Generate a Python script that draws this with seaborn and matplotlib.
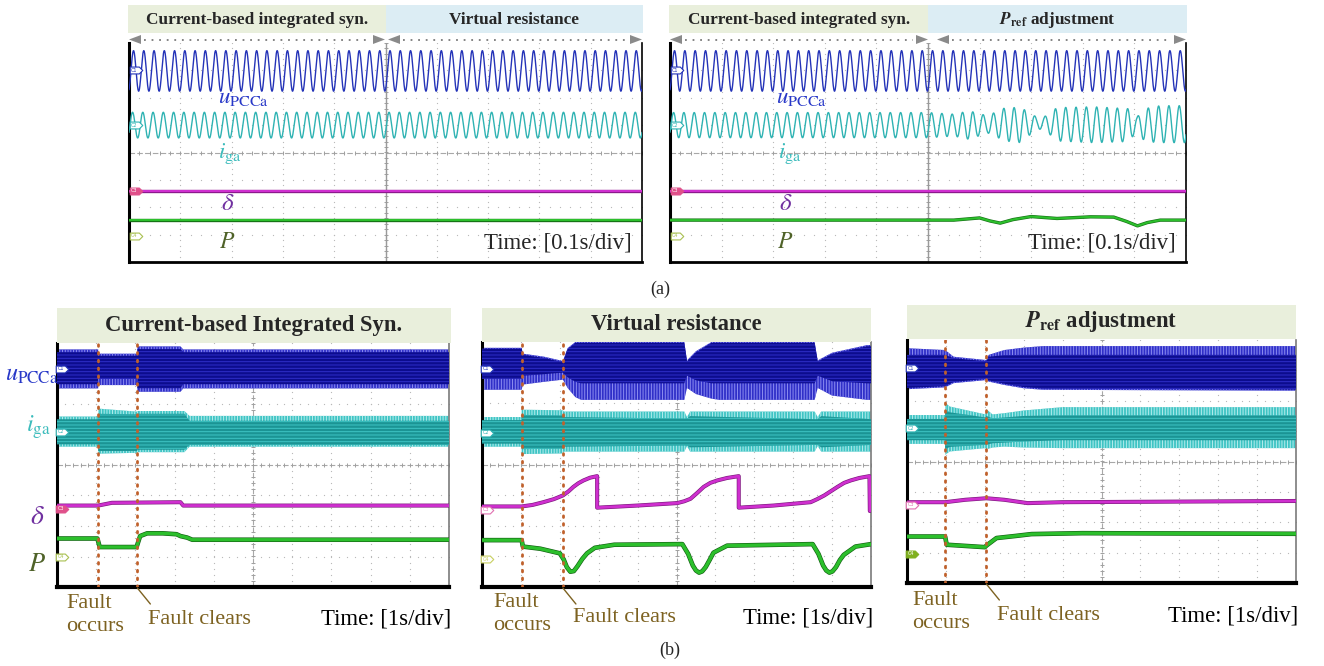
import numpy as np
import matplotlib
matplotlib.use("Agg")
import matplotlib.pyplot as plt
from matplotlib.path import Path
from matplotlib.patches import Rectangle, Polygon
import seaborn as sns

# ---------------- (a) steady-state records, 0.1 s/div ----------------
A_CYCLES = 50                     # 50 Hz over ten 0.1 s divisions
A_UPCC_LEVEL, A_UPCC_AMP = 2.98, 0.74
A_IGA_LEVEL, A_IGA_AMP = 1.00, 0.47
A_DELTA_LEVEL = -1.40
A_P_LEVEL = -2.47

# grid current envelope of the right-hand record (Pref adjustment enabled at 5 div)
a2_i_t = [0, 5.0, 5.5, 5.8, 6.15, 6.5, 6.8, 7.1, 7.25, 7.5, 8.2, 8.9, 9.05, 9.2, 9.5, 10]
a2_i_hi = [1.46, 1.46, 1.40, 1.52, 1.34, 1.64, 1.64, 1.30, 1.30, 1.64, 1.67, 1.60, 1.30, 1.60, 1.71, 1.71]
a2_i_lo = [0.54, 0.54, 0.60, 0.48, 0.72, 0.42, 0.36, 0.85, 0.85, 0.42, 0.36, 0.40, 0.80, 0.40, 0.36, 0.36]
a2_p_t = [0, 5.5, 6.0, 6.2, 6.4, 6.65, 7.0, 7.5, 8.15, 8.6, 8.85, 9.06, 9.25, 9.5, 10]
a2_p = [-2.47, -2.47, -2.39, -2.50, -2.58, -2.45, -2.34, -2.41, -2.35, -2.36, -2.52, -2.68, -2.56, -2.47, -2.47]

# ---------------- (b) fault ride-through records, 1 s/div ----------------
FAULT_ON = [1.05, 1.02, 0.98]
FAULT_OFF = [2.05, 2.08, 2.04]

# Current-based integrated synchronization
b1_u_t = [0, 1.05, 1.05, 2.05, 2.05, 3.15, 3.22, 10]
b1_u_hi = [3.79, 3.79, 3.65, 3.65, 3.89, 3.89, 3.79, 3.79]
b1_u_lo = [2.51, 2.51, 2.62, 2.62, 2.40, 2.40, 2.51, 2.51]
b1_u_ihi = [3.70, 3.70, 3.58, 3.58, 3.80, 3.80, 3.70, 3.70]
b1_u_ilo = [2.65, 2.65, 2.82, 2.82, 2.52, 2.52, 2.65, 2.65]
b1_i_t = [0, 1.05, 1.05, 2.05, 2.05, 3.25, 3.38, 10]
b1_i_hi = [1.59, 1.59, 1.85, 1.75, 1.77, 1.77, 1.61, 1.61]
b1_i_lo = [0.60, 0.60, 0.37, 0.40, 0.42, 0.42, 0.60, 0.60]
b1_i_ihi = [1.50, 1.50, 1.68, 1.66, 1.68, 1.68, 1.45, 1.45]
b1_i_ilo = [0.68, 0.68, 0.46, 0.46, 0.50, 0.50, 0.66, 0.66]
b1_d_t = [0, 1.05, 1.4, 3.15, 3.22, 10]
b1_d = [-1.33, -1.33, -1.24, -1.22, -1.33, -1.33]
b1_p_t = [0, 1.03, 1.09, 2.03, 2.12, 2.3, 2.7, 3.05, 3.15, 3.32, 3.45, 10]
b1_p = [-2.41, -2.41, -2.69, -2.69, -2.33, -2.24, -2.24, -2.27, -2.33, -2.38, -2.45, -2.45]

# Virtual resistance
b2_u_t = [0, 1.02, 1.05, 1.6, 2.08, 2.2, 2.4, 2.55, 5.2, 5.27, 5.5, 5.9, 6.1, 8.55, 8.63, 9.0, 9.9, 10]
b2_u_hi = [3.81, 3.81, 3.62, 3.52, 3.38, 3.80, 4.0, 4.0, 4.0, 3.40, 3.70, 4.0, 4.0, 4.0, 3.40, 3.65, 3.90, 3.90]
b2_u_lo = [2.44, 2.44, 2.61, 2.70, 2.77, 2.50, 2.20, 2.11, 2.11, 2.50, 2.30, 2.15, 2.11, 2.11, 2.50, 2.25, 2.11, 2.11]
b2_u_ihi = [3.78, 3.78, 3.58, 3.48, 3.34, 3.76, 3.97, 3.97, 3.97, 3.36, 3.66, 3.97, 3.97, 3.97, 3.36, 3.61, 3.86, 3.86]
b2_u_ilo = [2.80, 2.80, 2.90, 2.95, 3.00, 2.85, 2.70, 2.65, 2.65, 2.90, 2.75, 2.65, 2.65, 2.65, 2.90, 2.72, 2.65, 2.65]
b2_i_t = [0, 1.02, 1.02, 2.08, 2.1, 5.2, 5.27, 5.35, 8.55, 8.63, 8.72, 10]
b2_i_hi = [1.55, 1.55, 1.79, 1.77, 1.73, 1.73, 1.55, 1.73, 1.73, 1.55, 1.73, 1.73]
b2_i_lo = [0.58, 0.58, 0.34, 0.36, 0.42, 0.42, 0.60, 0.42, 0.42, 0.60, 0.42, 0.42]
b2_i_ihi = [1.45, 1.45, 1.62, 1.60, 1.55, 1.50, 1.50, 1.58, 1.48, 1.48, 1.58, 1.48]
b2_i_ilo = [0.68, 0.68, 0.50, 0.52, 0.58, 0.62, 0.62, 0.56, 0.64, 0.64, 0.56, 0.64]
b2_d_t = [0, 1.02, 1.3, 1.58, 1.85, 2.08, 2.22, 2.35, 2.48, 2.61, 2.78, 2.96, 2.96,
          4.0, 5.02, 5.2, 5.36, 5.53, 5.7, 5.87, 6.05, 6.3, 6.6, 6.6,
          7.5, 8.45, 8.62, 8.8, 8.97, 9.14, 9.31, 9.48, 9.7, 9.96, 9.97]
b2_d = [-1.37, -1.37, -1.32, -1.23, -1.13, -1.01, -0.88, -0.73, -0.61, -0.52, -0.43, -0.38, -1.41,
        -1.34, -1.26, -1.20, -1.12, -0.93, -0.73, -0.60, -0.52, -0.44, -0.38, -1.41,
        -1.34, -1.23, -1.13, -1.01, -0.87, -0.73, -0.60, -0.52, -0.44, -0.38, -1.52]
b2_p_t = [0, 1.02, 1.05, 1.5, 2.0, 2.1, 2.18, 2.27, 2.36, 2.45, 2.58, 2.7, 2.9, 3.4,
          5.15, 5.3, 5.42, 5.5, 5.58, 5.66, 5.75, 5.85, 5.95, 6.3,
          8.5, 8.65, 8.77, 8.85, 8.93, 9.01, 9.1, 9.2, 9.3, 9.6, 10]
b2_p = [-2.47, -2.47, -2.68, -2.75, -2.90, -3.10, -3.35, -3.50, -3.48, -3.33, -3.08, -2.90, -2.72, -2.62,
        -2.60, -2.92, -3.30, -3.46, -3.53, -3.49, -3.35, -3.12, -2.88, -2.65,
        -2.60, -2.92, -3.30, -3.46, -3.53, -3.49, -3.35, -3.12, -2.95, -2.68, -2.60]

# Pref adjustment
b3_u_t = [0, 0.98, 1.2, 2.04, 2.1, 2.5, 3.0, 3.5, 10]
b3_u_hi = [3.73, 3.67, 3.45, 3.34, 3.51, 3.67, 3.75, 3.80, 3.80]
b3_u_lo = [2.38, 2.44, 2.58, 2.68, 2.63, 2.52, 2.41, 2.36, 2.33]
b3_u_ihi = [3.51, 3.51, 3.40, 3.30, 3.45, 3.50, 3.51, 3.51, 3.51]
b3_u_ilo = [2.42, 2.48, 2.62, 2.72, 2.67, 2.56, 2.45, 2.40, 2.37]
b3_i_t = [0, 0.98, 0.98, 1.1, 2.02, 2.04, 2.2, 2.5, 3.0, 4.0, 10]
b3_i_hi = [1.53, 1.53, 1.94, 1.81, 1.55, 1.72, 1.55, 1.59, 1.68, 1.79, 1.79]
b3_i_lo = [0.58, 0.58, 0.22, 0.33, 0.44, 0.40, 0.46, 0.49, 0.46, 0.44, 0.44]
b3_i_ihi = [1.40, 1.40, 1.70, 1.62, 1.45, 1.50, 1.42, 1.45, 1.50, 1.52, 1.52]
b3_i_ilo = [0.70, 0.70, 0.40, 0.48, 0.55, 0.55, 0.60, 0.62, 0.66, 0.70, 0.70]
b3_d_t = [0, 0.98, 1.5, 2.04, 2.5, 3.1, 4.0, 10]
b3_d = [-1.34, -1.34, -1.26, -1.21, -1.26, -1.37, -1.34, -1.30]
b3_p_t = [0, 0.98, 1.02, 2.0, 2.05, 2.3, 2.8, 3.2, 4.5, 10]
b3_p = [-2.47, -2.47, -2.74, -2.82, -2.76, -2.52, -2.45, -2.39, -2.36, -2.38]

# ---------------- styling ----------------
sns.set_theme(style="white")
plt.rcParams["font.family"] = ["Liberation Serif", "DejaVu Serif"]
plt.rcParams["mathtext.fontset"] = "stix"
plt.rcParams["hatch.linewidth"] = 0.7

C_U, C_I, C_D, C_P = "#2433b8", "#2fb3b3", "#cf2fcf", "#2cbf2c"
L_U, L_I, L_D, L_P = "#2838c8", "#3cbcbc", "#7030a0", "#4f6228"
FAULT_C, FAULT_TXT = "#c0612c", "#7d6221"
HDR_G, HDR_B = "#e9efdc", "#dcedf4"

W, H = 1324, 666
fig = plt.figure(figsize=(W / 100, H / 100), dpi=100)
ov = fig.add_axes([0, 0, 1, 1], zorder=10)
ov.set_xlim(0, W)
ov.set_ylim(H, 0)
ov.axis("off")
ov.patch.set_alpha(0)

tab = Path([(-1, -0.55), (0.45, -0.55), (1, 0), (0.45, 0.55), (-1, 0.55), (-1, -0.55)],
           [Path.MOVETO, Path.LINETO, Path.LINETO, Path.LINETO, Path.LINETO, Path.CLOSEPOLY])


def scope(px0, py0, px1, py1, bottom_lw, right_c):
    ax = fig.add_axes([px0 / W, 1 - py1 / H, (px1 - px0) / W, (py1 - py0) / H], zorder=2)
    ax.set_xlim(0, 10)
    ax.set_ylim(-4, 4)
    ax.set_xticks([])
    ax.set_yticks([])
    ax.set_facecolor("white")
    sx = np.arange(0, 10.001, 0.2)
    sy = np.arange(-4, 4.001, 0.2)
    ax.plot(np.repeat(np.arange(1, 10), len(sy)), np.tile(sy, 9), ls="none", marker="o",
            ms=0.9, mew=0, color="#b8b8b8", zorder=0.5)
    ax.plot(np.tile(sx, 7), np.repeat(np.arange(-3, 4), len(sx)), ls="none", marker="o",
            ms=0.9, mew=0, color="#b8b8b8", zorder=0.5)
    ax.axhline(0, color="#a8a8a8", lw=0.8, ls=(0, (5, 2)), zorder=0.6)
    ax.axvline(5, color="#a8a8a8", lw=0.8, ls=(0, (5, 2)), zorder=0.6)
    ax.plot(sx, np.zeros_like(sx), ls="none", marker="|", ms=3, mew=0.7, color="#a0a0a0", zorder=0.6)
    ax.plot(np.full_like(sy, 5), sy, ls="none", marker="_", ms=3, mew=0.7, color="#a0a0a0", zorder=0.6)
    ax.spines["top"].set_visible(False)
    ax.spines["left"].set(color="black", linewidth=2.2)
    ax.spines["bottom"].set(color="black", linewidth=bottom_lw)
    ax.spines["right"].set(color=right_c, linewidth=1.2)
    return ax


def tabs(ax, levels, styles):
    for n, (lv, (fc, ec)) in enumerate(zip(levels, styles), start=1):
        ax.plot(0.14, lv, marker=tab, ms=9, mfc=fc, mec=ec, mew=0.8, ls="none", zorder=6, clip_on=False)
        ax.text(0.1, lv, f"C{n}", fontsize=3.5, color="white" if fc != "white" else ec,
                ha="center", va="center", family="DejaVu Sans", zorder=7)


def trace(ax, x, y, color, edge, lw):
    sns.lineplot(x=x, y=y, ax=ax, color=edge, lw=lw + 0.9, estimator=None, sort=False, legend=False, zorder=4)
    sns.lineplot(x=x, y=y, ax=ax, color=color, lw=lw, estimator=None, sort=False, legend=False, zorder=5)


def band(ax, t, hi, lo, ihi, ilo, outer, stripe, inner):
    ax.fill_between(t, lo, hi, facecolor=outer, edgecolor=stripe, hatch="||||||", linewidth=0, zorder=2)
    ax.fill_between(t, ilo, ihi, facecolor=inner, edgecolor=outer, hatch="-----", linewidth=0, zorder=3)


# ---------------- panel (a) ----------------
ta = np.linspace(0, 10, 6001)
carrier_u = np.sin(2 * np.pi * A_CYCLES / 10 * ta - 1.2)
carrier_i = np.sin(2 * np.pi * A_CYCLES / 10 * ta - 0.6)
a_boxes = [(129, 43, 642, 262), (670, 43, 1186, 262)]
a_titles = [("Current-based integrated syn.", "Virtual resistance"),
            ("Current-based integrated syn.", r"$\mathbfit{P}_{\mathbf{ref}}$ adjustment")]
a_split = [386, 928]
a_arrows = [(129, 385, 388, 642), (670, 928, 937, 1186)]
a_lab_x = [(243, 230, 228, 227), (801, 790, 786, 785)]

for k, (bx, titles, sp, arr, lx) in enumerate(zip(a_boxes, a_titles, a_split, a_arrows, a_lab_x)):
    x0, y0, x1, y1 = bx
    ov.add_patch(Rectangle((x0 - 1, 5), sp - x0 + 1, 28, fc=HDR_G, ec="none"))
    ov.add_patch(Rectangle((sp, 5), x1 - sp + 1, 28, fc=HDR_B, ec="none"))
    ov.text((x0 + sp) / 2, 20, titles[0], ha="center", va="center", fontsize=12.4, fontweight="bold")
    ov.text((sp + x1) / 2, 20, titles[1], ha="center", va="center", fontsize=12.4, fontweight="bold")
    for a, b in [(arr[0], arr[1]), (arr[2], arr[3])]:
        ov.add_patch(Polygon([(a, 39.5), (a + 12, 35), (a + 12, 44)], closed=True, fc="#8a8a8a", ec="none"))
        ov.add_patch(Polygon([(b, 39.5), (b - 12, 35), (b - 12, 44)], closed=True, fc="#8a8a8a", ec="none"))
        ov.plot([a + 15, b - 15], [39.5, 39.5], color="#7a7a7a", lw=1.3, ls=(0, (1, 3.2)))

    ax = scope(x0, y0, x1, y1, 2.0, "black")
    ax.axvline(5, color="#9a9a9a", lw=1.0, zorder=0.7)
    sns.lineplot(x=ta, y=A_UPCC_LEVEL + A_UPCC_AMP * carrier_u, ax=ax, color=C_U, lw=1.0,
                 estimator=None, sort=False, legend=False, zorder=4)
    if k == 0:
        i_wave = A_IGA_LEVEL + A_IGA_AMP * carrier_i
        p_t, p_v = [0, 10], [A_P_LEVEL, A_P_LEVEL]
    else:
        hi = np.interp(ta, a2_i_t, a2_i_hi)
        lo = np.interp(ta, a2_i_t, a2_i_lo)
        i_wave = (hi + lo) / 2 + (hi - lo) / 2 * carrier_i
        p_t, p_v = a2_p_t, a2_p
    sns.lineplot(x=ta, y=i_wave, ax=ax, color=C_I, lw=1.0, estimator=None, sort=False, legend=False, zorder=4)
    trace(ax, [0, 10], [A_DELTA_LEVEL, A_DELTA_LEVEL], C_D, "#8a1a8a", 1.5)
    trace(ax, p_t, p_v, C_P, "#167016", 1.5)
    tabs(ax, [3.0, 1.0, -1.4, -3.04],
         [("white", C_U), ("white", C_I), ("#e0508a", "#e0508a"), ("white", "#a8c050")])
    ov.text(lx[0], 98, r"$u_{\mathrm{PCCa}}$", color=L_U, fontsize=16.5, ha="center", va="center")
    ov.text(lx[1], 154, r"$i_{\mathrm{ga}}$", color=L_I, fontsize=16.5, ha="center", va="center")
    ov.text(lx[2], 204, r"$\delta$", color=L_D, fontsize=18, ha="center", va="center")
    ov.text(lx[3], 242, r"$P$", color=L_P, fontsize=17, ha="center", va="center")
    ov.text(x1 - 10, 243, "Time: [0.1s/div]", ha="right", va="center", fontsize=16.5)

ov.text(660, 289, "(a)", ha="center", va="center", fontsize=13)
ov.text(670, 650, "(b)", ha="center", va="center", fontsize=13)

# ---------------- panel (b) ----------------
b_boxes = [(57, 343, 449, 587), (482, 342, 871, 587), (907, 340, 1296, 583)]
b_hdr = [(57, 308, 451, 343), (482, 308, 871, 342), (907, 305, 1296, 339)]
b_titles = ["Current-based Integrated Syn.", "Virtual resistance",
            r"$\mathbfit{P}_{\mathbf{ref}}$ adjustment"]
b_data = [
    (b1_u_t, b1_u_hi, b1_u_lo, b1_u_ihi, b1_u_ilo, b1_i_t, b1_i_hi, b1_i_lo, b1_i_ihi, b1_i_ilo,
     b1_d_t, b1_d, b1_p_t, b1_p),
    (b2_u_t, b2_u_hi, b2_u_lo, b2_u_ihi, b2_u_ilo, b2_i_t, b2_i_hi, b2_i_lo, b2_i_ihi, b2_i_ilo,
     b2_d_t, b2_d, b2_p_t, b2_p),
    (b3_u_t, b3_u_hi, b3_u_lo, b3_u_ihi, b3_u_ilo, b3_i_t, b3_i_hi, b3_i_lo, b3_i_ihi, b3_i_ilo,
     b3_d_t, b3_d, b3_p_t, b3_p),
]
b_tabs = [[3.15, 1.09, -1.44, -3.0], [3.13, 1.04, -1.48, -3.09], [3.07, 1.10, -1.42, -3.04]]
b_tab_style = [
    [("white", C_U), ("white", C_I), ("#e0508a", "#e0508a"), ("white", "#a8c050")],
    [("white", C_U), ("white", C_I), ("white", "#e070b0"), ("white", "#c8d060")],
    [("white", C_U), ("white", C_I), ("white", "#e070b0"), ("#80b020", "#80b020")],
]
b_text_y = [619, 618, 616]
b_occurs_x = [66, 493, 912]
b_clears_x = [148, 573, 997]

for k in range(3):
    x0, y0, x1, y1 = b_boxes[k]
    hx0, hy0, hx1, hy1 = b_hdr[k]
    ov.add_patch(Rectangle((hx0, hy0), hx1 - hx0, hy1 - hy0, fc=HDR_G, ec="none"))
    ov.text((hx0 + hx1) / 2, (hy0 + hy1) / 2, b_titles[k], ha="center", va="center",
            fontsize=16.3, fontweight="bold")
    ax = scope(x0, y0, x1, y1, 3.0, "#7a7a7a")
    (ut, uhi, ulo, uihi, uilo, it, ihi, ilo, iihi, iilo, dt, dv, pt, pv) = b_data[k]
    band(ax, ut, uhi, ulo, uihi, uilo, "#2f2fc8", "#8c8cf0", "#0c0c8e")
    band(ax, it, ihi, ilo, iihi, iilo, "#3fc4c4", "#b4ecec", "#1b9494")
    trace(ax, dt, dv, C_D, "#7a1a7a", 2.0)
    trace(ax, pt, pv, C_P, "#125e12", 2.4)
    tabs(ax, b_tabs[k], b_tab_style[k])
    for ft in (FAULT_ON[k], FAULT_OFF[k]):
        ax.axvline(ft, color=FAULT_C, lw=2.0, ls=(0, (0.6, 2.2)), dash_capstyle="round", zorder=8)

    # fault annotations below the frame
    xc = x0 + FAULT_OFF[k] / 10 * (x1 - x0)
    ov.plot([xc, xc + 13], [y1 + 1, y1 + 17], color=FAULT_TXT, lw=1.0)
    ty = b_text_y[k]
    ov.text(b_occurs_x[k], ty - 4, "Fault\noccurs", color=FAULT_TXT, fontsize=16,
            ha="left", va="center", linespacing=1.3)
    ov.text(b_clears_x[k], ty, "Fault clears", color=FAULT_TXT, fontsize=16, ha="left", va="center")
    ov.text(x1 + 2, ty, "Time: [1s/div]", color="black", fontsize=16.4, ha="right", va="center")

# channel names on the left of the first record
ov.text(32, 375, r"$u_{\mathrm{PCCa}}$", color=L_U, fontsize=17.5, ha="center", va="center")
ov.text(38, 427, r"$i_{\mathrm{ga}}$", color=L_I, fontsize=17.5, ha="center", va="center")
ov.text(37, 518, r"$\delta$", color=L_D, fontsize=20, ha="center", va="center")
ov.text(37, 565, r"$P$", color=L_P, fontsize=19, ha="center", va="center")

fig.savefig("out.png", dpi=100)
